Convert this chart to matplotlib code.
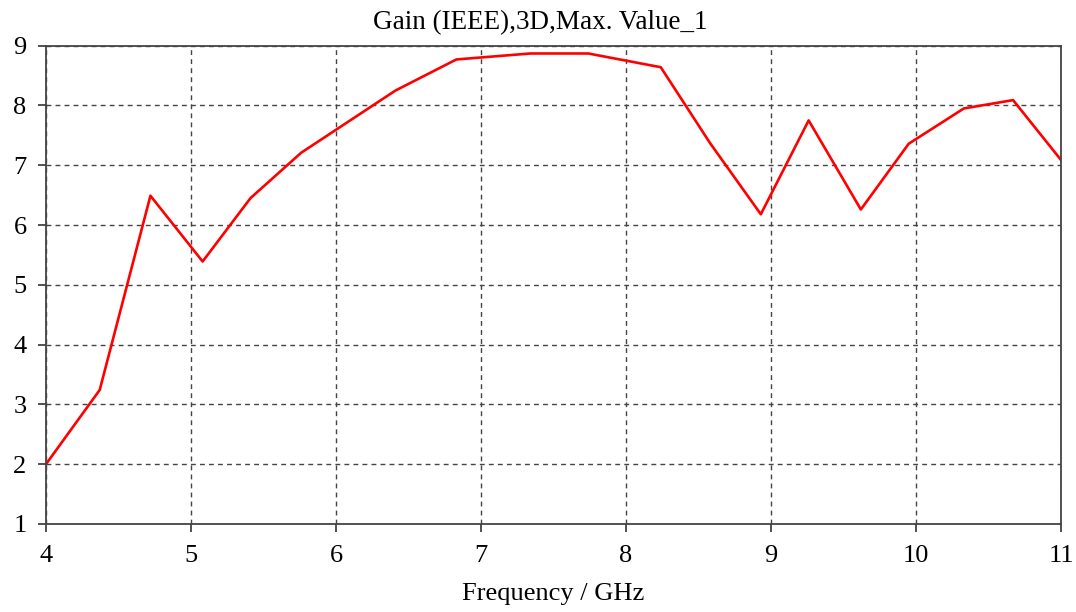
import matplotlib
matplotlib.use("Agg")
import matplotlib.pyplot as plt

# sweep points
freq_ghz = [4.0, 4.37, 4.72, 5.08, 5.41, 5.76, 6.41, 6.83, 7.34, 7.74,
            8.24, 8.58, 8.93, 9.26, 9.62, 9.95, 10.33, 10.67, 11.0]
gain_db = [2.0, 3.24, 6.49, 5.39, 6.45, 7.21, 8.25, 8.77, 8.87, 8.87,
           8.64, 7.37, 6.18, 7.75, 6.26, 7.36, 7.95, 8.09, 7.09]

x_ticks = [4, 5, 6, 7, 8, 9, 10, 11]
y_ticks = [1, 2, 3, 4, 5, 6, 7, 8, 9]

plt.rcParams['font.family'] = ['Liberation Serif', 'DejaVu Serif']

fig = plt.figure(figsize=(10.76, 6.12), dpi=100, facecolor='w')
ax = fig.add_axes([0.0428, 0.144, 0.9432, 0.7813])

ax.plot(freq_ghz, gain_db, color='#ff0000', linewidth=1.9)

ax.set_xlim(4, 11)
ax.set_ylim(1, 9)
ax.set_xticks(x_ticks)
ax.set_yticks(y_ticks)
ax.tick_params(axis='both', labelsize=19, direction='out', length=6,
               width=1.2, color='#333333')
ax.tick_params(axis='x', pad=9)
ax.tick_params(axis='y', pad=8)

ax.grid(True, color='#444444', linestyle=(0, (3.5, 3)), linewidth=1.0)
for s in ax.spines.values():
    s.set_color('#444444')
    s.set_linewidth(1.3)

ax.set_title('Gain (IEEE),3D,Max. Value_1', fontsize=19.5, pad=12, x=0.487)
ax.set_xlabel('Frequency / GHz', fontsize=19, labelpad=12)

plt.savefig("out.png", dpi=100)
